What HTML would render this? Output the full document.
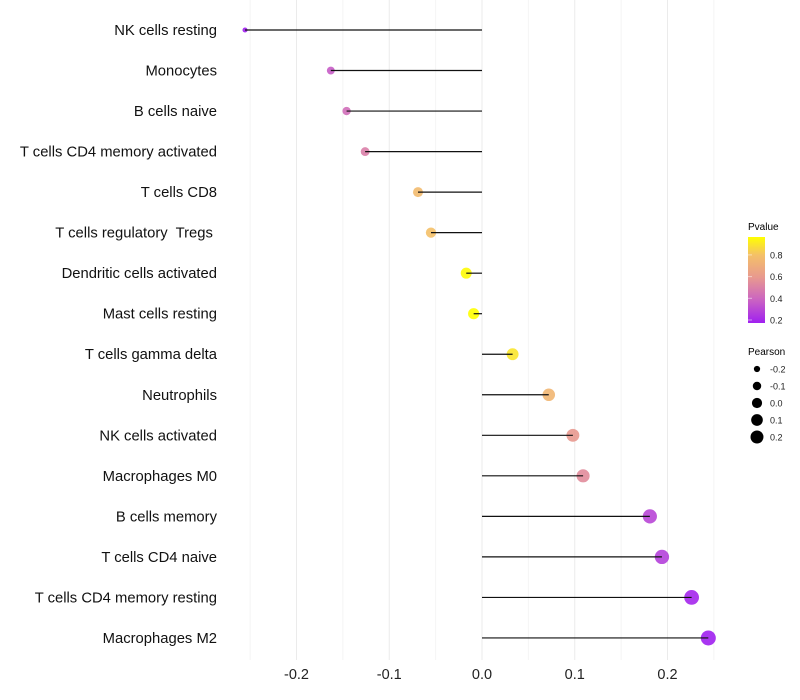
<!DOCTYPE html>
<html><head><meta charset="utf-8"><style>
body{margin:0;background:#fff;font-family:"Liberation Sans",sans-serif}
svg{display:block}
text{white-space:pre}
</style></head><body>
<svg id="c" width="800" height="700">
<defs><linearGradient id="pg" x1="0" y1="1" x2="0" y2="0">
<stop offset="0" stop-color="#A020F0"/><stop offset="0.28" stop-color="#CC66C0"/><stop offset="0.53" stop-color="#E8998F"/><stop offset="0.79" stop-color="#F4C068"/><stop offset="1" stop-color="#FFFF00"/>
</linearGradient></defs>
<g id="grid"></g>
<g id="marks"></g>
<g id="labels"></g>
<g id="xt"></g>
<g>
<text x="748" y="230" font-size="10">Pvalue</text>
<rect x="748" y="237" width="17" height="86" fill="url(#pg)"/>
<g id="cbt"></g>
</g>
<g>
<text x="748" y="355" font-size="10">Pearson</text>
<g id="szl"></g>
</g>
</svg>
<script>
const categories=["NK cells resting","Monocytes","B cells naive","T cells CD4 memory activated","T cells CD8","T cells regulatory  Tregs ","Dendritic cells activated","Mast cells resting","T cells gamma delta","Neutrophils","NK cells activated","Macrophages M0","B cells memory","T cells CD4 naive","T cells CD4 memory resting","Macrophages M2"];
const pearson=[-0.2555,-0.163,-0.146,-0.126,-0.069,-0.055,-0.017,-0.009,0.033,0.072,0.098,0.109,0.181,0.194,0.226,0.244];
const pvalue=[0.17,0.37,0.43,0.5,0.77,0.8,0.96,0.97,0.9,0.75,0.6,0.55,0.3,0.28,0.2,0.18];
const xTicks=[-0.2,-0.1,0.0,0.1,0.2];
const xTickLabels=["-0.2","-0.1","0.0","0.1","0.2"];
const cbTicks=[0.2,0.4,0.6,0.8];
const sizeTicks=[-0.2,-0.1,0.0,0.1,0.2];
const NS="http://www.w3.org/2000/svg";
const X=v=>482+v*927.5;
const Y=i=>30+i*40.53;
const R=v=>Math.sqrt(Math.max(3,32+100*v));
const PY=p=>320-(p-0.2)*108.5;
const stops=[[0.18,[160,32,240]],[0.4,[204,102,192]],[0.6,[232,153,143]],[0.8,[244,192,104]],[0.97,[255,255,0]]];
function col(p){if(p<=stops[0][0])return`rgb(${stops[0][1]})`;for(let i=1;i<stops.length;i++){if(p<=stops[i][0]){const a=stops[i-1],b=stops[i],t=(p-a[0])/(b[0]-a[0]);return`rgb(${a[1].map((c,k)=>Math.round(c+(b[1][k]-c)*t))})`;}}return`rgb(${stops[stops.length-1][1]})`;}
function mk(t,at,parent){const e=document.createElementNS(NS,t);for(const k in at)e.setAttribute(k,at[k]);document.getElementById(parent).appendChild(e);return e;}
for(let v=-0.25;v<=0.2501;v+=0.05){const major=Math.abs(Math.round(v*100)%10)===0;
const g=mk('line',{x1:X(v),x2:X(v),y1:0,y2:660,stroke:major?'#ebebeb':'#f4f4f4','stroke-width':1},'grid');

}
xTicks.forEach((v,i)=>{const t=mk('text',{x:X(v),y:679,'font-size':14.5,'text-anchor':'middle',fill:'#222'},'xt');t.textContent=xTickLabels[i];

});
categories.forEach((c,i)=>{
const t=mk('text',{x:217,y:Y(i)+5,'font-size':14.8,'text-anchor':'end',fill:'#111'},'labels');t.textContent=c;


const pt=mk('circle',{cx:X(pearson[i]),cy:Y(i),r:R(pearson[i]),fill:col(pvalue[i]),'fill-opacity':0.9},'marks');


const l=mk('line',{x1:X(0),x2:X(pearson[i]),y1:Y(i),y2:Y(i),stroke:'#111','stroke-width':1.2},'marks');


});
cbTicks.forEach(p=>{const t=mk('text',{x:770,y:PY(p)+3.5,'font-size':9,fill:'#222'},'cbt');t.textContent=p.toFixed(1);


mk('line',{x1:748,x2:752,y1:PY(p),y2:PY(p),stroke:'#fff','stroke-opacity':0.5},'cbt');});
sizeTicks.forEach((v,i)=>{const y=369+i*17;
const c=mk('circle',{cx:757,cy:y,r:R(v)*0.9,fill:'#000'},'szl');


const t=mk('text',{x:770,y:y+3.5,'font-size':9,fill:'#222'},'szl');t.textContent=v.toFixed(1);

});
</script>
</body></html>
